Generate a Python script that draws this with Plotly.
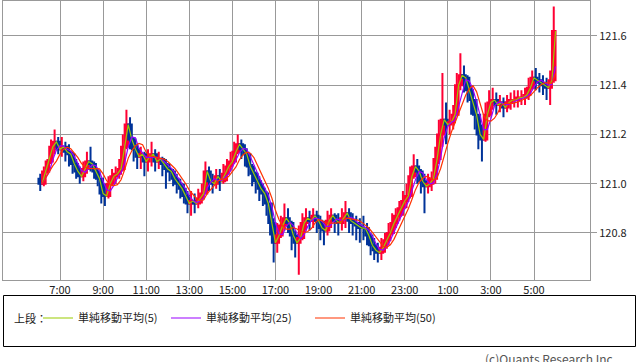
import pandas as pd
import plotly.graph_objects as go

# 10-minute candles, 06:00 -> 06:00 next day
start_time = "2015-06-01 06:00"
n_bars = 144

opens = [121.02, 121.00, 121.05, 121.09, 121.15, 121.17,
         121.14, 121.15, 121.13, 121.12, 121.08, 121.05,
         121.03, 121.06, 121.09, 121.08, 121.05, 121.02,
         120.96, 120.95, 121.00, 121.03, 121.04, 121.06,
         121.15, 121.24, 121.18, 121.14, 121.11, 121.12,
         121.09, 121.11, 121.12, 121.09, 121.10, 121.08,
         121.06, 121.05, 121.02, 121.00, 120.98, 120.95,
         120.92, 120.93, 120.92, 120.94, 120.96, 121.05,
         121.01, 121.00, 121.03, 121.01, 121.04, 121.07,
         121.09, 121.13, 121.16, 121.14, 121.12, 121.07,
         121.04, 121.01, 120.98, 120.96, 120.92, 120.84,
         120.76, 120.79, 120.83, 120.86, 120.84, 120.79,
         120.76, 120.78, 120.84, 120.86, 120.85, 120.87,
         120.85, 120.82, 120.81, 120.85, 120.87, 120.85,
         120.84, 120.86, 120.88, 120.85, 120.84, 120.83,
         120.82, 120.82, 120.79, 120.75, 120.73, 120.72,
         120.74, 120.77, 120.80, 120.84, 120.87, 120.90,
         120.93, 120.95, 121.03, 121.07, 121.05, 121.01,
         120.99, 121.00, 121.02, 121.10, 121.20, 121.26,
         121.24, 121.25, 121.28, 121.40, 121.44, 121.43,
         121.38, 121.34, 121.28, 121.20, 121.18, 121.28,
         121.33, 121.34, 121.32, 121.33, 121.31, 121.33,
         121.34, 121.34, 121.35, 121.35, 121.36, 121.39,
         121.43, 121.42, 121.41, 121.40, 121.39, 121.42]

highs = [121.04, 121.07, 121.10, 121.18, 121.22, 121.19,
         121.19, 121.17, 121.16, 121.13, 121.10, 121.07,
         121.09, 121.13, 121.15, 121.09, 121.06, 121.01,
         121.00, 121.03, 121.06, 121.07, 121.10, 121.20,
         121.30, 121.27, 121.19, 121.16, 121.15, 121.13,
         121.14, 121.17, 121.14, 121.13, 121.11, 121.10,
         121.08, 121.06, 121.04, 121.02, 121.00, 120.97,
         120.97, 120.96, 120.98, 121.00, 121.09, 121.07,
         121.04, 121.06, 121.06, 121.08, 121.10, 121.13,
         121.17, 121.20, 121.18, 121.16, 121.13, 121.08,
         121.05, 121.03, 121.00, 120.97, 120.92, 120.86,
         120.84, 120.87, 120.92, 120.90, 120.85, 120.81,
         120.83, 120.88, 120.90, 120.89, 120.90, 120.89,
         120.87, 120.85, 120.89, 120.90, 120.88, 120.88,
         120.90, 120.93, 120.90, 120.88, 120.87, 120.86,
         120.87, 120.84, 120.80, 120.78, 120.76, 120.78,
         120.80, 120.84, 120.88, 120.90, 120.93, 120.97,
         121.00, 121.07, 121.12, 121.10, 121.06, 121.04,
         121.04, 121.05, 121.15, 121.26, 121.45, 121.33,
         121.30, 121.32, 121.45, 121.53, 121.48, 121.44,
         121.40, 121.34, 121.28, 121.24, 121.33, 121.38,
         121.39, 121.37, 121.36, 121.35, 121.36, 121.37,
         121.38, 121.38, 121.38, 121.39, 121.43, 121.46,
         121.47, 121.45, 121.44, 121.43, 121.46, 121.72]

lows = [120.97, 120.99, 121.04, 121.08, 121.12, 121.12,
        121.11, 121.09, 121.07, 121.04, 121.02, 121.00,
        121.01, 121.04, 121.05, 121.02, 120.99, 120.92,
        120.91, 120.94, 120.99, 121.00, 121.02, 121.05,
        121.14, 121.14, 121.09, 121.06, 121.06, 121.03,
        121.05, 121.07, 121.05, 121.06, 121.03, 120.98,
        121.01, 120.99, 120.96, 120.94, 120.92, 120.88,
        120.87, 120.88, 120.90, 120.92, 120.96, 120.97,
        120.96, 120.98, 120.97, 121.00, 121.01, 121.05,
        121.08, 121.12, 121.10, 121.07, 121.03, 120.99,
        120.96, 120.93, 120.91, 120.87, 120.79, 120.68,
        120.72, 120.78, 120.81, 120.80, 120.73, 120.70,
        120.63, 120.77, 120.81, 120.81, 120.82, 120.80,
        120.77, 120.75, 120.79, 120.82, 120.80, 120.79,
        120.81, 120.82, 120.80, 120.79, 120.77, 120.76,
        120.77, 120.75, 120.71, 120.69, 120.68, 120.69,
        120.72, 120.75, 120.79, 120.82, 120.85, 120.87,
        120.90, 120.94, 121.02, 121.00, 120.96, 120.88,
        120.96, 120.97, 121.00, 121.08, 121.15, 121.16,
        121.20, 121.22, 121.28, 121.38, 121.37, 121.33,
        121.28, 121.22, 121.14, 121.09, 121.17, 121.27,
        121.30, 121.28, 121.29, 121.27, 121.29, 121.30,
        121.31, 121.31, 121.32, 121.32, 121.34, 121.38,
        121.38, 121.37, 121.36, 121.34, 121.32, 121.41]

closes = [121.00, 121.05, 121.09, 121.15, 121.17, 121.14,
          121.15, 121.13, 121.12, 121.08, 121.05, 121.03,
          121.06, 121.09, 121.08, 121.05, 121.02, 120.96,
          120.95, 121.00, 121.03, 121.04, 121.06, 121.15,
          121.24, 121.18, 121.14, 121.11, 121.12, 121.09,
          121.11, 121.12, 121.09, 121.10, 121.08, 121.06,
          121.05, 121.02, 121.00, 120.98, 120.95, 120.92,
          120.93, 120.92, 120.94, 120.96, 121.05, 121.01,
          121.00, 121.03, 121.01, 121.04, 121.07, 121.09,
          121.13, 121.16, 121.14, 121.12, 121.07, 121.04,
          121.01, 120.98, 120.96, 120.92, 120.84, 120.76,
          120.79, 120.83, 120.86, 120.84, 120.79, 120.76,
          120.78, 120.84, 120.86, 120.85, 120.87, 120.85,
          120.82, 120.81, 120.85, 120.87, 120.85, 120.84,
          120.86, 120.88, 120.85, 120.84, 120.83, 120.82,
          120.82, 120.79, 120.75, 120.73, 120.72, 120.74,
          120.77, 120.80, 120.84, 120.87, 120.90, 120.93,
          120.95, 121.03, 121.07, 121.05, 121.01, 120.99,
          121.00, 121.02, 121.10, 121.20, 121.26, 121.24,
          121.25, 121.28, 121.40, 121.44, 121.43, 121.38,
          121.34, 121.28, 121.20, 121.18, 121.28, 121.33,
          121.34, 121.32, 121.33, 121.31, 121.33, 121.34,
          121.34, 121.35, 121.35, 121.36, 121.39, 121.43,
          121.42, 121.41, 121.40, 121.39, 121.42, 121.62]

ma_labels = ["単純移動平均(5)", "単純移動平均(25)", "単純移動平均(50)"]
ma_windows = [1, 3, 5]          # in 10-minute bars (~5, 25, 50 minutes)
ma_colors = ["#99cc00", "#9900ff", "#ff3300"]

y_ticks = [120.8, 121.0, 121.2, 121.4, 121.6]
x_ticks = pd.date_range("2015-06-01 07:00", "2015-06-02 05:00", freq="2h")

# ---------------------------------------------------------------
W, H = 638, 362
ML, MR, MT, MB = 3, 48, 1, 82
FONT = "Noto Sans CJK JP, Noto Sans, sans-serif"

bar_start = pd.date_range(start_time, periods=n_bars, freq="10min")
bar_mid = bar_start + pd.Timedelta(minutes=5)
bar_end = bar_start + pd.Timedelta(minutes=10)
close_s = pd.Series(closes)

fig = go.Figure()
fig.add_trace(go.Candlestick(
    x=bar_mid, open=opens, high=highs, low=lows, close=closes,
    increasing=dict(line=dict(color="#ff0033", width=2), fillcolor="#ff0033"),
    decreasing=dict(line=dict(color="#003399", width=2), fillcolor="#003399"),
    whiskerwidth=0, showlegend=False, hoverinfo="skip",
))

legend_names = ["legend", "legend2", "legend3"]
for lab, win, col, lg in zip(ma_labels, ma_windows, ma_colors, legend_names):
    fig.add_trace(go.Scatter(
        x=bar_end, y=close_s.rolling(win, min_periods=1).mean(),
        mode="lines", line=dict(color=col, width=1.2),
        name=lab, legend=lg, hoverinfo="skip",
    ))

def px_x(p):
    return (p - ML) / (W - ML - MR)

def px_y(p):
    return (H - MB - p) / (H - MT - MB)

leg_common = dict(
    orientation="h", xref="container", yref="container",
    xanchor="left", yanchor="middle", bgcolor="rgba(0,0,0,0)",
    borderwidth=0, font=dict(family=FONT, size=11, color="#222"),
    itemclick=False, itemdoubleclick=False,
)
leg_x = [38, 166, 310]
legends = {}
for lg, lx in zip(legend_names, leg_x):
    legends[lg] = dict(leg_common, x=lx / W, y=1 - 318 / H)

fig.update_layout(
    width=W, height=H,
    margin=dict(l=ML, r=MR, t=MT, b=MB, pad=0, autoexpand=False),
    paper_bgcolor="white", plot_bgcolor="white",
    boxgap=0, boxgroupgap=0,
    font=dict(family=FONT, size=11, color="#222"),
    xaxis=dict(
        type="date",
        range=["2015-06-01 04:21:16", "2015-06-02 07:35:57"],
        tickvals=x_ticks, tickformat="%-H:%M",
        showgrid=True, gridcolor="#999999", gridwidth=1,
        showline=True, linecolor="#999999", linewidth=1, mirror=True,
        ticks="", rangeslider=dict(visible=False),
        zeroline=False, fixedrange=True, automargin=False,
    ),
    yaxis=dict(
        side="right", range=[120.609, 121.742],
        tickvals=y_ticks, ticktext=[f"{v:.1f}" for v in y_ticks],
        showgrid=True, gridcolor="#999999", gridwidth=1,
        showline=True, linecolor="#999999", linewidth=1, mirror=True,
        ticks="outside", ticklen=6, tickcolor="#999999",
        zeroline=False, fixedrange=True, automargin=False,
    ),
    shapes=[dict(
        type="rect", xref="paper", yref="paper",
        x0=px_x(3.5), x1=px_x(635.5), y0=px_y(295.5), y1=px_y(346.5),
        line=dict(color="black", width=1), fillcolor="rgba(0,0,0,0)",
    )],
    annotations=[
        dict(text="上段：", xref="paper", yref="paper", x=px_x(12), y=px_y(318),
             xanchor="left", yanchor="middle", showarrow=False,
             font=dict(family=FONT, size=11, color="#222")),
        dict(text="(c)Quants Research Inc.", xref="paper", yref="paper",
             x=px_x(618), y=px_y(348), xanchor="right", yanchor="top",
             showarrow=False, font=dict(family=FONT, size=12, color="#555")),
    ],
    **legends,
)

fig.write_html(
    "out.html",
    config={"displayModeBar": False},
    post_script="document.body.style.margin='0';document.body.style.padding='0';"
                "document.body.style.overflow='hidden';",
)
